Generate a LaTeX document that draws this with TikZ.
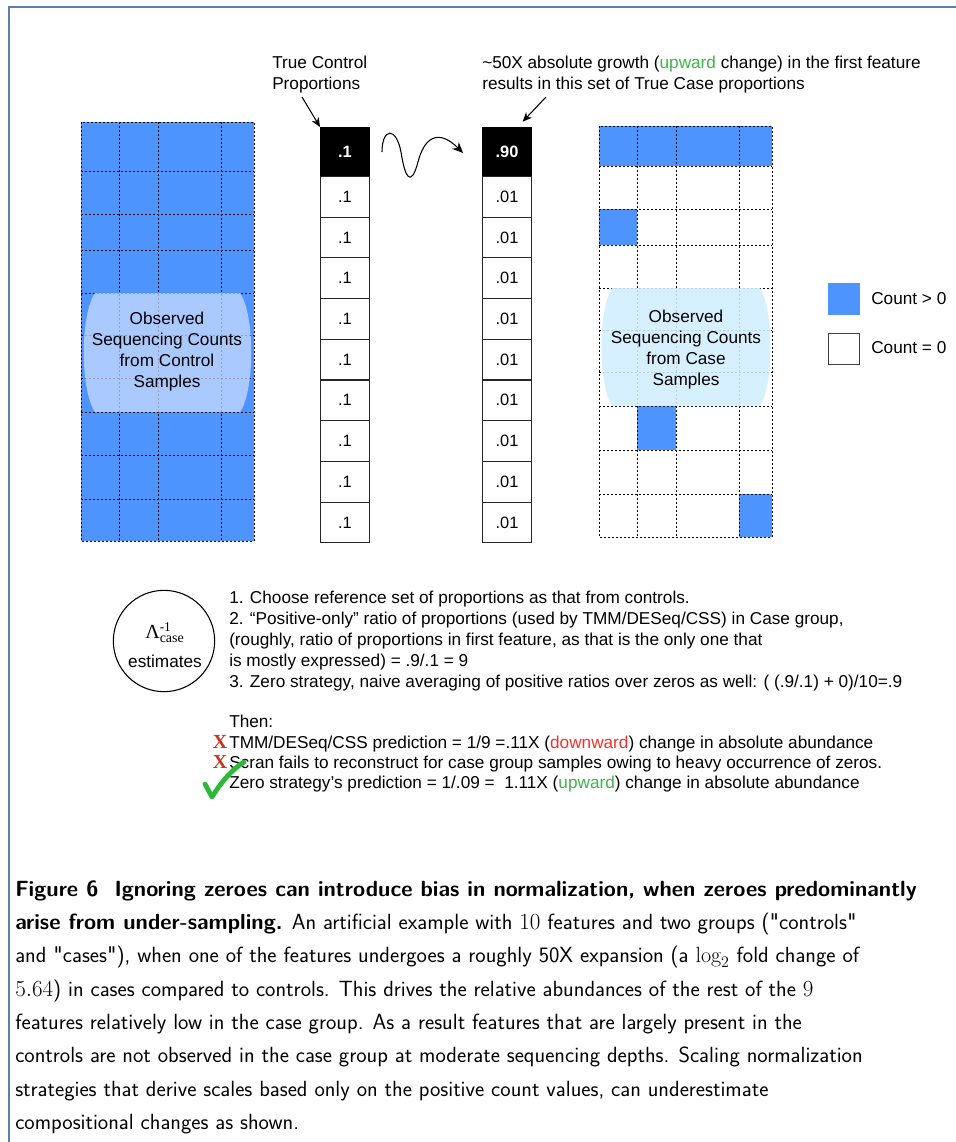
\documentclass[tikz,border=0pt]{standalone}
\usepackage{fontspec}
\usetikzlibrary{arrows.meta}
\newfontfamily\arialf{Liberation Sans}
\newfontfamily\tnrf{Liberation Serif}
\newfontfamily\qf{lmsans10-regular.otf}[Ligatures=TeXOff]
\newcommand\sq{{\qf"}}
\definecolor{frameblue}{HTML}{5B7FB3}
\definecolor{cellblue}{HTML}{4D94FF}
\definecolor{ovlblue}{HTML}{CFE0FF}
\definecolor{ovlcyan}{HTML}{D2EEFF}
\definecolor{upgreen}{HTML}{3DB54A}
\definecolor{downred}{HTML}{F0302A}
\definecolor{xred}{HTML}{C8361A}
\definecolor{checkgreen}{HTML}{2DB83A}
\tikzset{
  lbl/.style={font=\arialf\fontsize{12.9}{15.75}\selectfont, inner sep=0pt, align=left},
  gridline/.style={draw=black, line width=0.75pt, dash pattern=on 1.5pt off 1.5pt},
  propcell/.style={draw=black!85, line width=0.75pt, fill=white},
  topcell/.style={draw=black, line width=0.75pt, fill=black},
  celltxt/.style={font=\arialf\fontsize{12.3}{12}\selectfont, inner sep=0pt},
  toptxt/.style={font=\arialf\bfseries\fontsize{12.3}{12}\selectfont, text=white, inner sep=0pt},
  pointer/.style={-{Stealth[length=7pt,width=6pt]}, line width=0.8pt},
}
\begin{document}
\begin{tikzpicture}[x=0.75pt,y=-0.75pt]
\useasboundingbox (0,0) rectangle (956,1142);
% frame
\draw[frameblue, line width=0.9pt] (9,1142) -- (9,7) -- (956,7);

% ---------- left grid (controls) ----------
\fill[cellblue] (81,122) rectangle (254,541);
\foreach \yy in {171,214,250,293,335,378,412,455,499}
  \draw[gridline] (81,\yy) -- (254,\yy);
\foreach \xx in {119,158,221}
  \draw[gridline] (\xx,122) -- (\xx,541);
\draw[gridline] (81,122) rectangle (254,541);
\path[fill=ovlblue, fill opacity=0.72]
  (95,293) -- (240,293) .. controls (255,315) and (255,390) .. (240,412)
  -- (95,412) .. controls (80,390) and (80,315) .. (95,293) -- cycle;
\node[lbl, align=center] (ctrlobs) at (167,352)
  {Observed\\Sequencing Counts\\from Control\\Samples};

% ---------- right grid (cases) ----------
\fill[cellblue] (599,126) rectangle (772,166);
\fill[cellblue] (599,209) rectangle (637,245);
\fill[cellblue] (637,406) rectangle (676,450);
\fill[cellblue] (739,494) rectangle (772,537);
\foreach \yy in {166,209,245,288,330,372,406,450,494}
  \draw[gridline] (599,\yy) -- (772,\yy);
\foreach \xx in {637,676,739}
  \draw[gridline] (\xx,126) -- (\xx,537);
\draw[gridline] (599,126) rectangle (772,537);
\path[fill=ovlcyan, fill opacity=0.88]
  (612,288) -- (760,288) .. controls (774,310) and (774,385) .. (760,406)
  -- (612,406) .. controls (598,385) and (598,310) .. (612,288) -- cycle;
\node[lbl, align=center] (caseobs) at (686,350)
  {Observed\\Sequencing Counts\\from Case\\Samples};

% ---------- proportion columns ----------
\node[topcell, minimum width=36.75pt, minimum height=36.75pt, anchor=north west, inner sep=0pt] (c0) at (320,127) {};
\node[toptxt] at (c0) {.1};
\foreach \i in {1,...,9} {
  \pgfmathsetmacro{\yt}{176+(\i-1)*40.7}
  \node[propcell, minimum width=36.75pt, minimum height=30.5pt, anchor=north west, inner sep=0pt] (c\i) at (320,\yt) {};
  \node[celltxt] at (c\i) {.1};
}
\node[topcell, minimum width=36.75pt, minimum height=36.75pt, anchor=north west, inner sep=0pt] (d0) at (482,127) {};
\node[toptxt] at (d0) {.90};
\foreach \i in {1,...,9} {
  \pgfmathsetmacro{\yt}{176+(\i-1)*40.7}
  \node[propcell, minimum width=36.75pt, minimum height=30.5pt, anchor=north west, inner sep=0pt] (d\i) at (482,\yt) {};
  \node[celltxt] at (d\i) {.01};
}

% ---------- top labels ----------
\node[lbl, anchor=north west] (tcp) at (272,56) {True Control\\Proportions};
\node[lbl, anchor=north west] (growth) at (482,56)
  {\textasciitilde 50X absolute growth ({\color{upgreen}upward} change) in the first feature\\results in this set of True Case proportions};
\coordinate (a1s) at (302,97);
\coordinate (a2s) at (546,97);
\draw[pointer] (a1s) -- (c0.north west);
\draw[pointer] (a2s) -- ([xshift=-7pt,yshift=4pt]d0.north east);

% squiggle
\coordinate (sq0) at (382,152);
\coordinate (sq1) at (463,153);
\draw[-{Stealth[length=8pt,width=7pt]}, line width=0.8pt]
  (sq0) .. controls (382,128) and (396,126) .. (401,152)
  .. controls (405,178) and (411,188) .. (418,162)
  .. controls (424,138) and (438,128) .. (sq1);

% ---------- legend ----------
\node[fill=cellblue, minimum size=24pt, inner sep=0pt, anchor=north west] (lg1) at (828,283) {};
\node[draw=black!75, line width=0.8pt, fill=white, minimum size=23pt, inner sep=0pt, anchor=north west] (lg2) at (828,333) {};
\node[lbl, anchor=west] (lgt1) at (871,299) {Count > 0};
\node[lbl, anchor=west] (lgt2) at (871,348) {Count = 0};

% ---------- estimates ----------
\node[circle, draw=black, line width=0.8pt, minimum size=76pt, inner sep=0pt] (est) at (164,641) {};
\node[inner sep=0pt, anchor=base west] (lam) at (145,638) {\tnrf\fontsize{15}{15}\selectfont Λ$^{\mbox{\tnrf\fontsize{10}{10}\selectfont -1}}_{\mbox{\tnrf\fontsize{10.5}{10}\selectfont case}}$};
\node[lbl] (estt) at (165,661) {estimates};

\node[lbl, anchor=north west] (steps) at (229,591)
  {1. Choose reference set of proportions as that from controls.\\
   2. “Positive-only” ratio of proportions (used by TMM/DESeq/CSS) in Case group,\\
   (roughly, ratio of proportions in first feature, as that is the only one that\\
   is mostly expressed) = .9/.1 = 9\\
   3. Zero strategy, naive averaging of positive ratios over zeros as well: ( (.9/.1) + 0)/10=.9};

\node[lbl, anchor=north west, font=\arialf\fontsize{12.9}{15.2}\selectfont] (then) at (229,715)
  {Then:\\
   TMM/DESeq/CSS prediction = 1/9 =.11X ({\color{downred}downward}) change in absolute abundance\\
   Scran fails to reconstruct for case group samples owing to heavy occurrence of zeros.\\
   Zero strategy’s prediction = 1/.09 = \ 1.11X ({\color{upgreen}upward}) change in absolute abundance};
\node[inner sep=0pt, text=xred] (x1) at (220,742) {\tnrf\bfseries\fontsize{15}{15}\selectfont X};
\node[inner sep=0pt, text=xred] (x2) at (220,762) {\tnrf\bfseries\fontsize{15}{15}\selectfont X};
\draw[checkgreen, line width=3.6pt, line cap=round, line join=round]
  (205,784) -- (212,797) .. controls (220,784) and (230,771) .. (244,762);

% ---------- caption ----------
\node[anchor=north west, inner sep=0pt, align=left, font=\sffamily\fontsize{16.5}{25}\selectfont] (cap) at (15,880)
  {\textbf{Figure 6 \ Ignoring zeroes can introduce bias in normalization, when zeroes predominantly}\\
   \textbf{arise from under-sampling.} An artificial example with $10$ features and two groups (\sq controls\sq\\
   and \sq cases\sq), when one of the features undergoes a roughly 50X expansion (a $\log_2$ fold change of\\
   $5.64$) in cases compared to controls. This drives the relative abundances of the rest of the $9$\\
   features relatively low in the case group. As a result features that are largely present in the\\
   controls are not observed in the case group at moderate sequencing depths. Scaling normalization\\
   strategies that derive scales based only on the positive count values, can underestimate\\
   compositional changes as shown.};
\end{tikzpicture}
\end{document}
